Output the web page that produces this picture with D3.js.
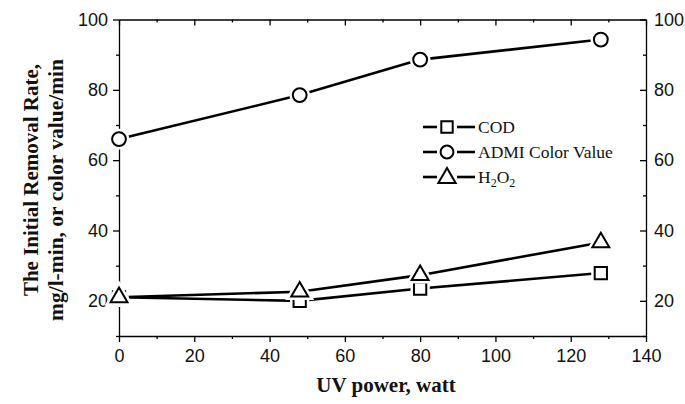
<!DOCTYPE html>
<html>
<head>
<meta charset="utf-8">
<script src="https://cdn.jsdelivr.net/npm/d3@7"></script>
<style>
  html, body { margin: 0; padding: 0; background: #fff; }
  svg { display: block; }
</style>
</head>
<body>
<div id="chart"></div>
<script>
// UV power (watt) on the x axis
var uvPower = [0, 48, 80, 128];

// initial removal rates for each measure
var codRate = [21, 20.0, 23.5, 27.9];
var admiRate = [66, 78.5, 88.6, 94.3];
var h2o2Rate = [21, 22.6, 27.3, 36.6];

var xTicks = [0, 20, 40, 60, 80, 100, 120, 140];
var xMinor = [10, 30, 50, 70, 90, 110, 130];
var yTicks = [20, 40, 60, 80, 100];
var yMinor = [10, 30, 50, 70, 90];

var width = 685, height = 404;
var padL = 119, padR = 646, padT = 19.5, padB = 336;

var svg = d3.select("#chart").append("svg").attr("width", width).attr("height", height);

var scaleX = d3.scaleLinear().domain([0, 140]).range([padL, padR]);
var scaleY = d3.scaleLinear().domain([10, 100]).range([padB, padT]);

var tickFont = "'Liberation Sans', Arial, sans-serif";
var serif = "'Liberation Serif', 'Times New Roman', serif";

//  Axes  //
function styleAxis(g) {
    g.select(".domain").attr("stroke", "#000").attr("stroke-width", 1.3);
    g.selectAll(".tick line").attr("stroke", "#000").attr("stroke-width", 1.3);
    g.selectAll(".tick text").attr("fill", "#111").attr("font-family", tickFont).attr("font-size", 18);
}

// bottom
svg.append("g").attr("transform", "translate(0," + padB + ")")
    .call(d3.axisBottom(scaleX).tickValues(xTicks).tickSizeInner(6).tickSizeOuter(0).tickPadding(7))
    .call(styleAxis);
svg.append("g").attr("transform", "translate(0," + padB + ")")
    .call(d3.axisBottom(scaleX).tickValues(xMinor).tickSize(3).tickFormat(""))
    .call(styleAxis).select(".domain").remove();

// top (ticks pointing in)
svg.append("g").attr("transform", "translate(0," + padT + ")")
    .call(d3.axisBottom(scaleX).tickValues(xTicks).tickSizeInner(6).tickSizeOuter(0).tickFormat(""))
    .call(styleAxis);
svg.append("g").attr("transform", "translate(0," + padT + ")")
    .call(d3.axisBottom(scaleX).tickValues(xMinor).tickSize(3).tickFormat(""))
    .call(styleAxis).select(".domain").remove();

// left
svg.append("g").attr("transform", "translate(" + padL + ",0)")
    .call(d3.axisLeft(scaleY).tickValues(yTicks).tickSizeInner(6).tickSizeOuter(0).tickPadding(5))
    .call(styleAxis);
svg.append("g").attr("transform", "translate(" + padL + ",0)")
    .call(d3.axisLeft(scaleY).tickValues(yMinor).tickSize(3).tickFormat(""))
    .call(styleAxis).select(".domain").remove();

// right (ticks pointing in, labels outside)
var rightAxis = svg.append("g").attr("transform", "translate(" + padR + ",0)")
    .call(d3.axisLeft(scaleY).tickValues(yTicks).tickSizeInner(6).tickSizeOuter(0))
    .call(styleAxis);
rightAxis.selectAll(".tick text").attr("x", 8).attr("text-anchor", "start");
svg.append("g").attr("transform", "translate(" + padR + ",0)")
    .call(d3.axisLeft(scaleY).tickValues(yMinor).tickSize(3).tickFormat(""))
    .call(styleAxis).select(".domain").remove();

//  Series  //
var series = [
    { name: "COD", values: codRate, symbol: d3.symbolSquare, size: 150 },
    { name: "ADMI Color Value", values: admiRate, symbol: d3.symbolCircle, size: 150 },
    { name: "H2O2", values: h2o2Rate, symbol: d3.symbolTriangle, size: 124 }
];

var line = d3.line().x(function(d){ return scaleX(d.x); }).y(function(d){ return scaleY(d.y); });

series.forEach(function(s){
    var pts = uvPower.map(function(x, i){ return { x: x, y: s.values[i] }; });
    svg.append("path").datum(pts).attr("d", line)
        .attr("fill", "none").attr("stroke", "#000").attr("stroke-width", 2.6);
});

// markers drawn on a white halo so the lines stop short of them
series.forEach(function(s){
    var sym = d3.symbol().type(s.symbol).size(s.size);
    var pts = uvPower.map(function(x, i){ return { x: x, y: s.values[i] }; });
    var g = svg.append("g");
    g.selectAll(".halo").data(pts).enter().append("path")
        .attr("d", sym).attr("transform", function(d){ return "translate(" + scaleX(d.x) + "," + scaleY(d.y) + ")"; })
        .attr("fill", "#fff").attr("stroke", "#fff").attr("stroke-width", 7);
    g.selectAll(".mark").data(pts).enter().append("path")
        .attr("d", sym).attr("transform", function(d){ return "translate(" + scaleX(d.x) + "," + scaleY(d.y) + ")"; })
        .attr("fill", "none").attr("stroke", "#000").attr("stroke-width", 2);
});

//  Legend  //
var legendY = [127, 152, 177];
series.forEach(function(s, i){
    var g = svg.append("g").attr("transform", "translate(0," + legendY[i] + ")");
    g.append("line").attr("x1", 423).attr("x2", 437).attr("y1", 0).attr("y2", 0)
        .attr("stroke", "#000").attr("stroke-width", 2.6);
    g.append("line").attr("x1", 457).attr("x2", 475).attr("y1", 0).attr("y2", 0)
        .attr("stroke", "#000").attr("stroke-width", 2.6);
    g.append("path").attr("d", d3.symbol().type(s.symbol).size(130))
        .attr("transform", "translate(447," + (s.symbol === d3.symbolTriangle ? 1 : 0) + ")")
        .attr("fill", "none").attr("stroke", "#000").attr("stroke-width", 2);
    var t = g.append("text").attr("x", 478).attr("y", 6)
        .attr("font-family", serif).attr("font-size", 17.5).attr("fill", "#111");
    if (s.name === "H2O2") {
        t.append("tspan").text("H");
        t.append("tspan").attr("font-size", 12).attr("dy", 4).text("2");
        t.append("tspan").attr("dy", -4).text("O");
        t.append("tspan").attr("font-size", 12).attr("dy", 4).text("2");
    } else {
        t.text(s.name);
    }
});

//  Titles  //
svg.append("text").attr("x", 386).attr("y", 392)
    .attr("text-anchor", "middle").attr("font-family", serif).attr("font-weight", "bold")
    .attr("font-size", 21).attr("fill", "#111").text("UV power, watt");

svg.append("text").attr("transform", "translate(38,180) rotate(-90)")
    .attr("text-anchor", "middle").attr("font-family", serif).attr("font-weight", "bold")
    .attr("font-size", 21).attr("fill", "#111").text("The Initial Removal Rate,");
svg.append("text").attr("transform", "translate(63,190) rotate(-90)")
    .attr("text-anchor", "middle").attr("font-family", serif).attr("font-weight", "bold")
    .attr("font-size", 21.5).attr("fill", "#111").text("mg/l-min, or color value/min");
</script>
</body>
</html>
